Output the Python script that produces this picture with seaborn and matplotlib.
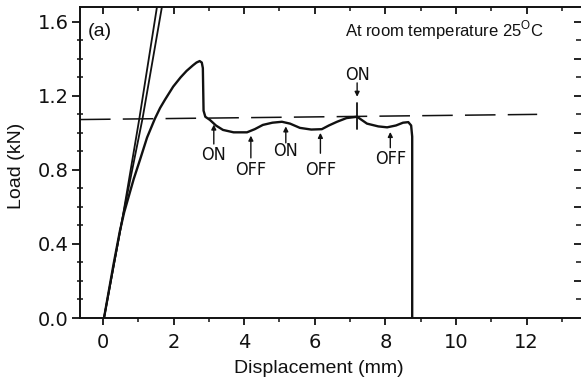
import numpy as np
import pandas as pd
import matplotlib
matplotlib.use('Agg')
import matplotlib.pyplot as plt
import seaborn as sns

# load-displacement curve at room temperature
curve_x = [0.03, 0.30, 0.48, 0.60, 0.72, 0.87, 1.05, 1.25, 1.47, 1.62, 1.76, 1.99, 2.20, 2.37,
           2.55, 2.65, 2.74, 2.80, 2.83, 2.85, 2.90,
           3.03, 3.20, 3.40, 3.70, 4.08, 4.30, 4.53, 4.80, 5.07, 5.30, 5.58, 5.90, 6.20, 6.40,
           6.63, 6.90, 7.20, 7.48, 7.80, 8.05, 8.30, 8.50, 8.65, 8.73, 8.76, 8.76]
curve_y = [0.00, 0.29, 0.47, 0.57, 0.65, 0.75, 0.855, 0.975, 1.076, 1.135, 1.18, 1.25, 1.30, 1.335,
           1.365, 1.38, 1.388, 1.38, 1.35, 1.12, 1.087,
           1.07, 1.04, 1.016, 1.003, 1.003, 1.02, 1.043, 1.055, 1.06, 1.05, 1.027, 1.018, 1.02, 1.04,
           1.06, 1.08, 1.087, 1.05, 1.035, 1.03, 1.04, 1.055, 1.058, 1.04, 0.98, 0.00]

# elastic loading lines (double line)
line_a_x = [0.03, 0.56, 1.03, 1.53]
line_a_y = [0.00, 0.546, 1.076, 1.68]
line_b_x = [0.03, 0.56, 1.12, 1.67]
line_b_y = [0.00, 0.546, 1.076, 1.68]

# dashed reference line
dash_x = [-0.65, 12.3]
dash_y = [1.072, 1.10]

# ON / OFF markers below the curve
mark_labels = ['ON', 'OFF', 'ON', 'OFF', 'OFF']
mark_x = [3.14, 4.19, 5.18, 6.16, 8.14]
label_y = [0.88, 0.80, 0.90, 0.80, 0.86]
arrow_tail = [0.94, 0.865, 0.946, 0.89, 0.92]
arrow_tip = [1.045, 0.985, 1.035, 1.0, 1.005]

# ON marker above the curve
top_x = 7.2
top_label_y = 1.31
top_tail, top_tip = 1.27, 1.195
cross_y = [1.02, 1.16]

sns.set_style('white')
plt.rcParams['font.family'] = ['DejaVu Sans']
plt.rcParams['mathtext.fontset'] = 'custom'
plt.rcParams['mathtext.rm'] = 'Liberation Sans'

fig = plt.figure(figsize=(5.81, 3.87), dpi=100)
ax = fig.add_axes([80/581, 69/387, 502/581, 311/387])

ink = '#111111'
df_curve = pd.DataFrame({'x': curve_x, 'y': curve_y})
sns.lineplot(data=df_curve, x='x', y='y', sort=False, estimator=None, color=ink, lw=1.7, ax=ax)
sns.lineplot(x=line_a_x, y=line_a_y, sort=False, estimator=None, color=ink, lw=1.3, ax=ax)
sns.lineplot(x=line_b_x, y=line_b_y, sort=False, estimator=None, color=ink, lw=1.3, ax=ax)
ax.plot(dash_x, dash_y, color=ink, lw=1.1, dashes=(20, 8))
ax.plot([top_x, top_x], cross_y, color=ink, lw=1.3)

onoff_font = dict(family='DejaVu Sans', fontstretch='condensed', fontsize=13, color=ink,
                  ha='center', va='center')
arrow_style = dict(arrowstyle='-|>', color=ink, lw=1.0, mutation_scale=7, shrinkA=0, shrinkB=0)
for lab, x, ly, t0, t1 in zip(mark_labels, mark_x, label_y, arrow_tail, arrow_tip):
    ax.annotate('', xy=(x, t1), xytext=(x, t0), arrowprops=arrow_style)
    ax.text(x, ly, lab, **onoff_font)
ax.annotate('', xy=(top_x, top_tip), xytext=(top_x, top_tail), arrowprops=arrow_style)
ax.text(top_x, top_label_y, 'ON', **onoff_font)

ax.text(-0.42, 1.546, '(a)', family='Liberation Sans', fontsize=14, color=ink, va='center')
ax.text(6.86, 1.557, 'At room temperature 25$^{\\mathrm{O}}$C', family='Liberation Sans',
        fontsize=12, color=ink, va='center')

ax.set_xlim(-0.65, 13.57)
ax.set_ylim(0, 1.68)
ax.set_xticks([0, 2, 4, 6, 8, 10, 12])
ax.set_xticks(np.arange(1, 14, 2), minor=True)
ax.set_yticks([0.0, 0.4, 0.8, 1.2, 1.6])
ax.set_yticklabels(['0.0', '0.4', '0.8', '1.2', '1.6'])
ax.set_yticks(np.arange(0.1, 1.65, 0.1), minor=True)
ax.tick_params(axis='both', which='major', labelsize=14, colors=ink, width=1.3)
ax.tick_params(axis='x', which='major', direction='out', length=5, pad=6)
ax.tick_params(axis='x', which='minor', direction='out', length=3, width=1.1, colors=ink)
ax.tick_params(axis='y', which='major', direction='out', length=6, pad=2)
ax.tick_params(axis='y', which='minor', direction='inout', length=4, width=1.1, colors=ink)
ax.tick_params(bottom=True, left=True, which='both')

top = ax.secondary_xaxis('top')
top.set_xticks([0, 2, 4, 6, 8, 10, 12])
top.set_xticks(np.arange(1, 14, 2), minor=True)
top.tick_params(which='both', direction='in', labeltop=False, colors=ink)
top.tick_params(which='major', length=5, width=1.3)
top.tick_params(which='minor', length=3, width=1.1)
right = ax.secondary_yaxis('right')
right.set_yticks(np.arange(0.2, 1.65, 0.2))
right.set_yticks(np.arange(0.1, 1.65, 0.2), minor=True)
right.tick_params(which='both', direction='in', labelright=False, colors=ink)
right.tick_params(which='major', length=6, width=1.3)
right.tick_params(which='minor', length=4, width=1.1)
for sp in [top.spines['top'], right.spines['right']]:
    sp.set_visible(False)

for sp in ax.spines.values():
    sp.set_color(ink)
    sp.set_linewidth(1.4)

ax.set_xlabel('Displacement (mm)', family='Liberation Sans', fontsize=14, color=ink)
ax.set_ylabel('Load (kN)', family='Liberation Sans', fontsize=14, color=ink)
ax.xaxis.set_label_coords(0.476, -0.135)
ax.yaxis.set_label_coords(-0.11, 0.49)

fig.savefig('out.png', dpi=100)
